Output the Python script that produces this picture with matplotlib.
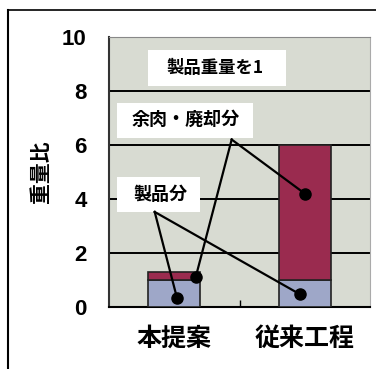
import matplotlib
matplotlib.use("Agg")
import matplotlib.pyplot as plt
from matplotlib.patches import Rectangle
from matplotlib.lines import Line2D

plt.rcParams['font.family'] = ['Noto Sans CJK JP', 'DejaVu Sans']

# data
categories = ['本提案', '従来工程']
product = [1.0, 1.0]          # 製品分
excess = [0.3, 5.0]           # 余肉・廃却分
yticks = [0, 2, 4, 6, 8, 10]

# callout labels and where their leader lines point (data coords)
label_top = '製品重量を1'
label_excess = '余肉・廃却分'
label_product = '製品分'
excess_apex = (0.44, 6.2)
excess_dots = [(0.165, 1.12), (1.0, 4.2)]
product_apex = (-0.15, 3.52)
product_dots = [(0.02, 0.35), (0.96, 0.48)]

blue = '#9ea7c8'
red = '#9a2b4f'
bg = '#d8dbd2'

fig = plt.figure(figsize=(3.76, 3.69), dpi=100)
ax = fig.add_axes([0.290, 0.168, 0.694, 0.732])
ax.set_facecolor(bg)

x = range(len(categories))
ax.bar(x, product, width=0.4, color=blue, edgecolor='#222222', linewidth=1.2, zorder=3)
ax.bar(x, excess, width=0.4, bottom=product, color=red, edgecolor='#222222', linewidth=1.2, zorder=3)

ax.set_xlim(-0.5, 1.5)
ax.set_ylim(0, 10)
for v in yticks[1:-1]:
    ax.axhline(v, color='black', lw=1.4, zorder=1)

ax.set_yticks(yticks)
ax.set_yticklabels([str(v) for v in yticks], fontsize=16, fontweight='bold',
                   family='Liberation Sans')
ax.tick_params(axis='y', length=0, pad=16)
ax.set_xticks([0.5], minor=True)
ax.tick_params(axis='x', which='minor', direction='in', length=5, width=1)
ax.set_xticks(list(x))
ax.set_xticklabels(categories, fontsize=18, fontweight='bold')
ax.tick_params(axis='x', which='major', length=0, pad=14)
ax.set_ylabel('重量比', fontsize=15, fontweight='bold', labelpad=8)

ax.spines['left'].set_color('#333333')
ax.spines['left'].set_linewidth(1.5)
ax.spines['bottom'].set_color('black')
ax.spines['bottom'].set_linewidth(1.5)
ax.spines['top'].set_color('#888888')
ax.spines['right'].set_color('#aaaaaa')

# white label boxes
ax.add_patch(Rectangle((-0.203, 8.19), 1.057, 1.33, facecolor='white', edgecolor='none', zorder=4))
ax.add_patch(Rectangle((-0.441, 6.26), 1.043, 1.30, facecolor='white', edgecolor='none', zorder=4))
ax.add_patch(Rectangle((-0.441, 3.52), 0.636, 1.29, facecolor='white', edgecolor='none', zorder=4))
ax.text(0.31, 8.85, label_top, ha='center', va='center', fontsize=12.5, fontweight='bold', zorder=5)
ax.text(0.09, 6.93, label_excess, ha='center', va='center', fontsize=13, fontweight='bold', zorder=5)
ax.text(-0.11, 4.15, label_product, ha='center', va='center', fontsize=13, fontweight='bold', zorder=5)

# leader lines
for apex, dots in [(excess_apex, excess_dots), (product_apex, product_dots)]:
    for d in dots:
        ax.plot([apex[0], d[0]], [apex[1], d[1]], color='black', lw=1.6, zorder=6)
        ax.plot(d[0], d[1], 'o', color='black', ms=8, zorder=7)

# outer frame (left and top)
fig.add_artist(Line2D([0.022, 0.022], [0, 0.973], color='black', lw=1.5))
fig.add_artist(Line2D([0.022, 1.0], [0.973, 0.973], color='black', lw=1.2))

fig.savefig('out.png', dpi=100)
